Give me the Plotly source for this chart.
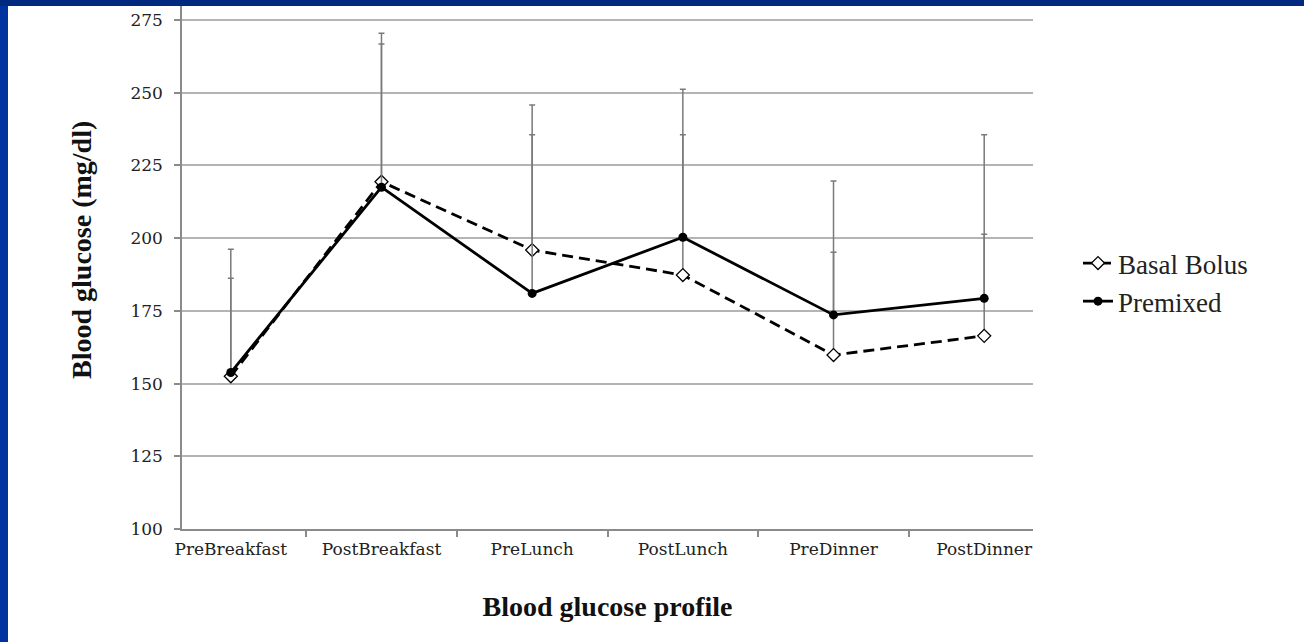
import plotly.graph_objects as go

categories = ["PreBreakfast", "PostBreakfast", "PreLunch", "PostLunch", "PreDinner", "PostDinner"]
basal_bolus = [152.5, 219.4, 195.9, 187.3, 159.8, 166.4]
premixed = [153.8, 217.5, 181.0, 200.3, 173.6, 179.3]
basal_bolus_upper = [196.2, 270.4, 245.8, 235.5, 219.6, 235.5]
premixed_upper = [186.2, 266.7, 235.5, 251.2, 195.1, 201.3]
y_ticks = [100, 125, 150, 175, 200, 225, 250, 275]

basal_err = [u - m for u, m in zip(basal_bolus_upper, basal_bolus)]
premixed_err = [u - m for u, m in zip(premixed_upper, premixed)]

W, H = 1304, 642
ML, MR, MT, MB = 182, 271, 6, 113

fig = go.Figure()
fig.add_trace(go.Scatter(
    x=categories, y=basal_bolus, name="Basal Bolus", mode="lines+markers",
    line=dict(color="black", width=2.8, dash="11px,6px"),
    marker=dict(symbol="diamond", size=10, color="white", line=dict(color="black", width=1.3)),
    error_y=dict(type="data", array=basal_err, arrayminus=[0] * 6, symmetric=False,
                 color="#7a7a7a", thickness=1.5, width=3),
))
fig.add_trace(go.Scatter(
    x=categories, y=premixed, name="Premixed", mode="lines+markers",
    line=dict(color="black", width=2.8),
    marker=dict(symbol="circle", size=9, color="black"),
    error_y=dict(type="data", array=premixed_err, arrayminus=[0] * 6, symmetric=False,
                 color="#7a7a7a", thickness=1.5, width=3),
))

pw = W - ML - MR
ph = H - MT - MB
fig.update_layout(
    width=W, height=H,
    margin=dict(l=ML, r=MR, t=MT, b=MB, pad=0),
    paper_bgcolor="white", plot_bgcolor="white",
    showlegend=True,
    legend=dict(
        x=(1078 - ML) / pw, xanchor="left", y=(529 - 239) / ph, yanchor="top",
        font=dict(family="Liberation Serif", size=27, color="#222"),
        bgcolor="rgba(0,0,0,0)", borderwidth=0,
    ),
    xaxis=dict(
        type="category", categoryorder="array", categoryarray=categories,
        showgrid=False, showline=True, linecolor="#8a8a8a", linewidth=1.5,
        ticks="outside", tickson="boundaries", ticklen=6, tickcolor="#8a8a8a", tickwidth=1.5,
        ticklabelstandoff=4,
        tickfont=dict(family="DejaVu Serif", size=17, color="#222"),
        title=dict(text="<b>Blood glucose profile</b>", standoff=38,
                   font=dict(family="Liberation Serif", size=28, color="#111")),
        automargin=False, zeroline=False, fixedrange=True,
    ),
    yaxis=dict(
        range=[100, 279.8], tickvals=y_ticks,
        showgrid=True, gridcolor="#b4b4b4", gridwidth=1.5,
        showline=True, linecolor="#8a8a8a", linewidth=1.5,
        ticks="outside", ticklen=6, tickcolor="#8a8a8a", tickwidth=1.5,
        ticklabelstandoff=8,
        tickfont=dict(family="DejaVu Serif", size=17, color="#222"),
        automargin=False, zeroline=False, fixedrange=True,
    ),
    annotations=[
        dict(text="<b>Blood glucose (mg/dl)</b>", textangle=-90,
             xref="paper", yref="paper", x=(82 - ML) / pw, y=(529 - 250) / ph,
             xanchor="center", yanchor="middle", showarrow=False,
             font=dict(family="Liberation Serif", size=28, color="#111")),
    ],
    shapes=[
        dict(type="rect", xref="paper", yref="paper", layer="above",
             x0=-ML / pw, x1=(8 - ML) / pw, y0=-MB / ph, y1=1 + MT / ph,
             fillcolor="#0033a0", line=dict(width=0)),
        dict(type="rect", xref="paper", yref="paper", layer="above",
             x0=-ML / pw, x1=1 + MR / pw, y0=1, y1=1 + MT / ph,
             fillcolor="#00297f", line=dict(width=0)),
    ],
)

fig.write_html("out.html", config={"displayModeBar": False},
               post_script="document.body.style.margin='0px';document.body.style.overflow='hidden';")
